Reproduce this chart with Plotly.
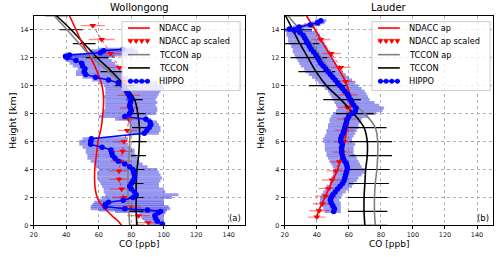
import plotly.graph_objects as go

# ---------------- Wollongong ----------------
w_nd_h = [0, 0.3, 0.6, 1, 1.5, 2, 2.5, 3, 4, 5, 6, 7, 8, 9, 10, 11, 12, 13, 14, 15]
w_nd_ap = [74, 72, 69, 65.5, 61.5, 59, 58, 57.5, 57.5, 58.5, 59.5, 61.5, 62.5, 63, 62, 59, 55, 50, 46, 42]

w_sc_h = [0.2, 0.7, 1.3, 2.0, 2.6, 3.3, 3.9, 4.6, 5.3, 6.0, 6.8, 7.6, 8.4, 9.3, 10.3, 11.3, 12.3, 13.3, 14.3]
w_sc = [90.5, 84.5, 79, 75.5, 74, 72.5, 72.5, 73.5, 74.7, 75.5, 77.5, 78.5, 79, 78.5, 76, 72.7, 67.3, 61.8, 56.3]
w_sc_err = [8, 7, 7, 7, 7, 6, 6, 6, 6, 6, 6, 6, 6, 7, 7, 7, 7, 8, 7.5]

w_tc_h = [0, 1, 2, 3, 4, 5, 6, 7, 8, 9, 10, 11, 12, 13, 14, 15]
w_tc = [83.5, 83, 83, 83, 83.5, 84.5, 85, 85, 84, 82, 76, 68, 59, 51, 43, 34]
w_tc_err = [4.5, 4.5, 4.5, 4.5, 4.5, 4.5, 4.5, 4.5, 5, 5, 6, 7, 7, 7, 7, 7]
w_tcap = [79, 78.5, 78, 78, 78, 78.5, 79, 79.5, 79, 78, 74, 66, 56, 48, 40.5, 32.5]

w_hp_h = [0.1, 0.3, 0.5, 0.7, 0.9, 1.0, 1.1, 1.2, 1.35, 1.5, 1.65, 1.8, 2.0, 2.2, 2.4, 2.6, 2.8, 3.0,
          3.2, 3.4, 3.6, 3.8, 4.0, 4.2, 4.4, 4.6, 4.8, 5.0, 5.2, 5.4, 5.6, 5.8, 6.0, 6.2, 6.6, 6.8,
          7.0, 7.2, 7.4, 7.6, 7.8, 8.0, 8.2, 8.4, 8.6, 8.8, 9.0, 9.2, 9.4, 9.6, 9.8, 10.0, 10.2,
          10.4, 10.6, 10.8, 11.0, 11.2, 11.4, 11.6, 11.8, 12.0, 12.1, 12.2, 12.35, 12.5, 12.6]
w_hp = [99, 96, 95, 94.5, 96.5, 98, 90, 76, 64, 64, 66, 75, 81, 83, 82, 80, 79, 80,
        81, 82, 82, 81.5, 81, 79, 76, 72, 70, 68.5, 68, 67.5, 62, 55, 55, 55.5, 88, 89.5,
        91, 92, 91.5, 89, 76, 79, 80, 79.5, 79, 79.5, 80, 79, 78, 77, 76, 75, 72,
        66, 58, 52, 51, 51.5, 50, 49.5, 46, 40.5, 39.5, 42, 61, 63, 75]
w_hp_lo = [90, 88, 87, 86, 85, 70, 60, 55, 55, 56, 57, 60, 62, 64, 63, 63, 62, 61,
           60, 59, 59, 59, 60, 58, 57, 55, 53, 53, 52, 52, 50, 48, 48, 50, 78, 80,
           80, 80, 78, 70, 60, 62, 63, 64, 64, 64, 64, 63, 64, 64, 64, 63, 60,
           56, 50, 46, 46, 47, 44, 42, 40, 38, 38, 40, 52, 55, 60]
w_hp_hi = [101, 100, 100, 100, 101, 101, 102, 104, 103, 100, 100, 100, 105, 109, 101, 100, 97, 97,
           98, 99, 98, 97, 96, 90, 87, 85, 84, 83, 82, 82, 80, 78, 76, 78, 97, 98,
           98, 97, 96, 92, 90, 95, 96, 96, 95, 96, 95, 96, 97, 98, 100, 100, 96,
           86, 78, 74, 74, 74, 72, 70, 68, 66, 70, 80, 84, 84, 82]

# ---------------- Lauder ----------------
l_nd_h = [0.6, 1, 2, 3, 4, 5, 6, 7, 8, 9, 10, 11, 12, 13, 14, 15]
l_nd_ap = [40, 41, 45, 49, 53, 55.5, 57.5, 59, 60.3, 60.8, 59, 54.5, 49.2, 44, 39, 33.5]

l_sc_h = [0.6, 1.05, 1.55, 2.1, 2.65, 3.25, 3.9, 4.55, 5.25, 6.0, 6.8, 7.6, 8.45, 9.35, 10.3, 11.3, 12.3, 13.3, 14.35]
l_sc = [40, 41.5, 43.5, 45.5, 47.5, 49.5, 52, 54, 56, 57, 57.5, 58.5, 59, 59.5, 58, 55, 49, 42.5, 36.5]
l_sc_err = [5.5, 6, 6, 6.5, 6.5, 6.5, 6, 6, 6, 6, 6, 6, 6, 6, 6, 6, 6, 6, 6]

l_tc_h = [0, 1, 2, 3, 4, 5, 6, 7, 8, 9, 10, 11, 12, 13, 14, 15]
l_tc = [70, 69.5, 69.5, 70, 70.5, 71.5, 71.5, 69.5, 63, 55, 46, 39.5, 34.5, 29.5, 25, 20.5]
l_tc_ep = [14, 14.5, 14.5, 15, 15, 15.5, 15.5, 14, 12.5, 12.5, 12.5, 12, 12, 12, 12, 12]
l_tc_em = [11, 10, 10, 10, 10, 11, 11, 11, 11, 11, 11, 11, 11, 11, 11, 11]
l_tcap = [76.5, 76, 76, 76.5, 77.5, 78, 78, 76.5, 70, 60, 54, 49, 43, 37, 29.5, 22]

l_hp_h = [1.0, 1.2, 1.4, 1.6, 1.8, 2.0, 2.2, 2.4, 2.6, 2.8, 3.0, 3.2, 3.4, 3.6, 3.8, 4.0, 4.2, 4.4,
          4.6, 4.8, 5.0, 5.2, 5.4, 5.6, 5.8, 6.0, 6.2, 6.4, 6.6, 6.8, 7.0, 7.2, 7.4, 7.6, 7.8,
          8.0, 8.2, 8.4, 8.6, 8.8, 9.0, 9.2, 9.4, 9.6, 9.8, 10.0, 10.2, 10.4, 10.6, 10.8, 11.0,
          11.2, 11.4, 11.6, 11.8, 12.0, 12.2, 12.4, 12.6, 12.8, 13.0, 13.2, 13.4, 13.6, 13.8,
          13.95, 14.05, 14.2, 14.35, 14.5, 14.65]
l_hp = [50.5, 51, 50, 49, 48.5, 49, 50, 51.5, 53, 54.5, 56, 57, 57.5, 58, 58.5, 59, 59, 58.5,
        57.5, 56.5, 56, 55.5, 55.5, 55.5, 56, 55, 55, 55.5, 56.5, 57, 57.5, 58, 58.5, 59, 60,
        62, 64, 64.5, 63, 62, 61, 60, 59, 57.5, 56, 54.5, 53, 51.5, 50, 48.5, 47,
        45.5, 44, 42.5, 41.5, 40.5, 39.5, 38, 36.5, 35.5, 34.5, 33.5, 32.5, 31.5, 29.5,
        26, 23, 29, 36, 40.5, 42.5]
l_hp_lo = [45, 44, 43, 42, 42, 42, 43, 44, 45, 46, 48, 49, 49, 50, 50, 51, 50, 49,
           48, 47, 46, 46, 45, 45, 45, 44, 44, 45, 46, 46, 47, 47, 48, 48, 49,
           50, 52, 53, 52, 51, 50, 49, 48, 47, 45, 43, 41, 39, 37, 35, 33,
           32, 30, 29, 28, 27, 26, 25, 25, 24, 23, 22, 22, 21, 21,
           20, 20, 25, 32, 37, 39]
l_hp_hi = [55, 55, 55, 55, 54, 55, 56, 58, 60, 62, 63, 65, 66, 68, 70, 70, 68, 67,
           66, 65, 64, 63, 63, 63, 64, 62, 62, 63, 64, 65, 66, 66, 67, 68, 72,
           77, 81, 82, 79, 76, 73, 72, 71, 70, 68, 66, 64, 62, 60, 58, 56,
           55, 53, 52, 51, 50, 49, 48, 47, 46, 45, 44, 43, 42, 40,
           37, 32, 38, 42, 45, 46]

x_ticks = [20, 40, 60, 80, 100, 120, 140]
y_ticks = [0, 2, 4, 6, 8, 10, 12, 14]
legend_names = ["NDACC ap", "NDACC ap scaled", "TCCON ap", "TCCON", "HIPPO"]

FONT = "DejaVu Sans"
W, H = 500, 257
fig = go.Figure()


def add_site(xa, ya, nd_h, nd_ap, sc_h, sc, sc_err, tc_h, tc, tc_ep, tc_em, tcap,
             hp_h, hp, hp_lo, hp_hi):
    # HIPPO variability band (behind everything)
    fig.add_trace(go.Scatter(
        x=hp, y=hp_h, mode="markers", xaxis=xa, yaxis=ya, showlegend=False,
        marker=dict(size=1, color="rgba(0,0,0,0)"),
        error_x=dict(type="data", symmetric=False,
                     array=[h - v for h, v in zip(hp_hi, hp)],
                     arrayminus=[v - l for v, l in zip(hp, hp_lo)],
                     color="rgba(70,70,225,0.55)", thickness=3, width=0),
        hoverinfo="skip"))
    fig.add_trace(go.Scatter(
        x=sc, y=sc_h, mode="lines+markers", xaxis=xa, yaxis=ya, showlegend=False,
        line=dict(color="red", width=0.8, dash="dot"),
        marker=dict(symbol="triangle-down", size=6, color="red"),
        error_x=dict(type="data", array=sc_err, color="rgba(255,0,0,0.45)",
                     thickness=1.3, width=0)))
    fig.add_trace(go.Scatter(
        x=tc, y=tc_h, mode="lines", xaxis=xa, yaxis=ya, showlegend=False,
        line=dict(color="black", width=1.6, shape="spline"),
        error_x=dict(type="data", symmetric=False, array=tc_ep, arrayminus=tc_em,
                     color="black", thickness=1.2, width=0)))
    fig.add_trace(go.Scatter(
        x=nd_ap, y=nd_h, mode="lines", xaxis=xa, yaxis=ya, showlegend=False,
        line=dict(color="red", width=1.6, shape="spline")))
    fig.add_trace(go.Scatter(
        x=tcap, y=tc_h, mode="lines", xaxis=xa, yaxis=ya, showlegend=False,
        line=dict(color="gray", width=1.6, shape="spline")))
    fig.add_trace(go.Scatter(
        x=hp, y=hp_h, mode="lines+markers", xaxis=xa, yaxis=ya, showlegend=False,
        line=dict(color="blue", width=1.5),
        marker=dict(size=5.5, color="blue")))


add_site("x", "y", w_nd_h, w_nd_ap, w_sc_h, w_sc, w_sc_err, w_tc_h, w_tc,
         w_tc_err, w_tc_err, w_tcap, w_hp_h, w_hp, w_hp_lo, w_hp_hi)
add_site("x2", "y2", l_nd_h, l_nd_ap, l_sc_h, l_sc, l_sc_err, l_tc_h, l_tc,
         l_tc_ep, l_tc_em, l_tcap, l_hp_h, l_hp, l_hp_lo, l_hp_hi)

ydom = [1 - 229 / H, 1 - 16 / H]
ax_common = dict(showline=True, mirror=True, linecolor="black", linewidth=1,
                 ticks="outside", ticklen=3, tickwidth=1, tickcolor="black",
                 showgrid=True, gridcolor="#b0b0b0", griddash="dot", gridwidth=0.8,
                 zeroline=False, tickfont=dict(family=FONT, size=6.5, color="#222"))

fig.update_layout(
    width=W, height=H, margin=dict(l=0, r=0, t=0, b=0),
    paper_bgcolor="white", plot_bgcolor="white", showlegend=False,
    font=dict(family=FONT),
    xaxis=dict(domain=[30 / W, 243 / W], range=[20, 150], tickvals=x_ticks, anchor="y", **ax_common),
    yaxis=dict(domain=ydom, range=[0, 15], tickvals=y_ticks, anchor="x", **ax_common),
    xaxis2=dict(domain=[283 / W, 493 / W], range=[20, 150], tickvals=x_ticks, anchor="y2", **ax_common),
    yaxis2=dict(domain=ydom, range=[0, 15], tickvals=y_ticks, anchor="x2", **ax_common),
)


def px(x):
    return x / W


def py(y):
    return 1 - y / H


shapes = []
ann = []


def legend_box(x0):
    x1 = x0 + 119
    y0, y1 = 22, 92
    shapes.append(dict(type="rect", xref="paper", yref="paper", x0=px(x0), x1=px(x1),
                       y0=py(y1), y1=py(y0), fillcolor="rgba(255,255,255,0.8)",
                       line=dict(color="#cccccc", width=1), layer="above"))
    rows = [28.5, 42, 55.5, 69, 82.5]
    styles = [("red", 1.6, "solid"), ("red", 0.8, "dot"), ("gray", 1.6, "solid"),
              ("black", 1.6, "solid"), ("blue", 1.5, "solid")]
    lx0, lx1 = x0 + 6, x0 + 28
    for name, ry, (c, w, d) in zip(legend_names, rows, styles):
        shapes.append(dict(type="line", xref="paper", yref="paper", x0=px(lx0), x1=px(lx1),
                           y0=py(ry), y1=py(ry), line=dict(color=c, width=w, dash=d),
                           layer="above"))
        ann.append(dict(x=px(x0 + 35), y=py(ry), xref="paper", yref="paper", text=name,
                        showarrow=False, xanchor="left", yanchor="middle",
                        font=dict(family=FONT, size=8.2, color="black")))
    for k in range(4):
        cx = lx0 + 2.5 + k * 5.7
        ty = rows[1]
        shapes.append(dict(type="path", xref="paper", yref="paper", layer="above",
                           path=f"M {px(cx-2.6)},{py(ty-2.2)} L {px(cx+2.6)},{py(ty-2.2)} L {px(cx)},{py(ty+2.4)} Z",
                           fillcolor="red", line=dict(color="red", width=0.5)))
        dy = rows[4]
        shapes.append(dict(type="circle", xref="paper", yref="paper", layer="above",
                           x0=px(cx - 2.3), x1=px(cx + 2.3), y0=py(dy + 2.3), y1=py(dy - 2.3),
                           fillcolor="blue", line=dict(color="blue", width=0.5)))


legend_box(119)
legend_box(371)

for cx, title, tag, tx in [((30 + 243) / 2, "Wollongong", "(a)", 241),
                           ((283 + 493) / 2, "Lauder", "(b)", 491)]:
    ann.append(dict(x=px(cx), y=py(8), xref="paper", yref="paper", text=title,
                    showarrow=False, font=dict(family=FONT, size=10, color="black"),
                    xanchor="center", yanchor="middle"))
    ann.append(dict(x=px(cx), y=py(248), xref="paper", yref="paper", text="CO [ppb]",
                    showarrow=False, font=dict(family=FONT, size=9, color="black"),
                    xanchor="center", yanchor="middle"))
    ann.append(dict(x=px(tx), y=py(221), xref="paper", yref="paper", text=tag,
                    showarrow=False, font=dict(family=FONT, size=8.5, color="black"),
                    xanchor="right", yanchor="middle"))
for hx in [8, 258]:
    ann.append(dict(x=px(hx), y=py(122), xref="paper", yref="paper", text="Height [km]",
                    showarrow=False, textangle=-90, font=dict(family=FONT, size=9.5, color="black"),
                    xanchor="center", yanchor="middle"))

fig.update_layout(shapes=shapes, annotations=ann)
fig.write_html("out.html", config={"displayModeBar": False},
               post_script="document.body.style.margin='0';document.body.style.overflow='hidden';")
